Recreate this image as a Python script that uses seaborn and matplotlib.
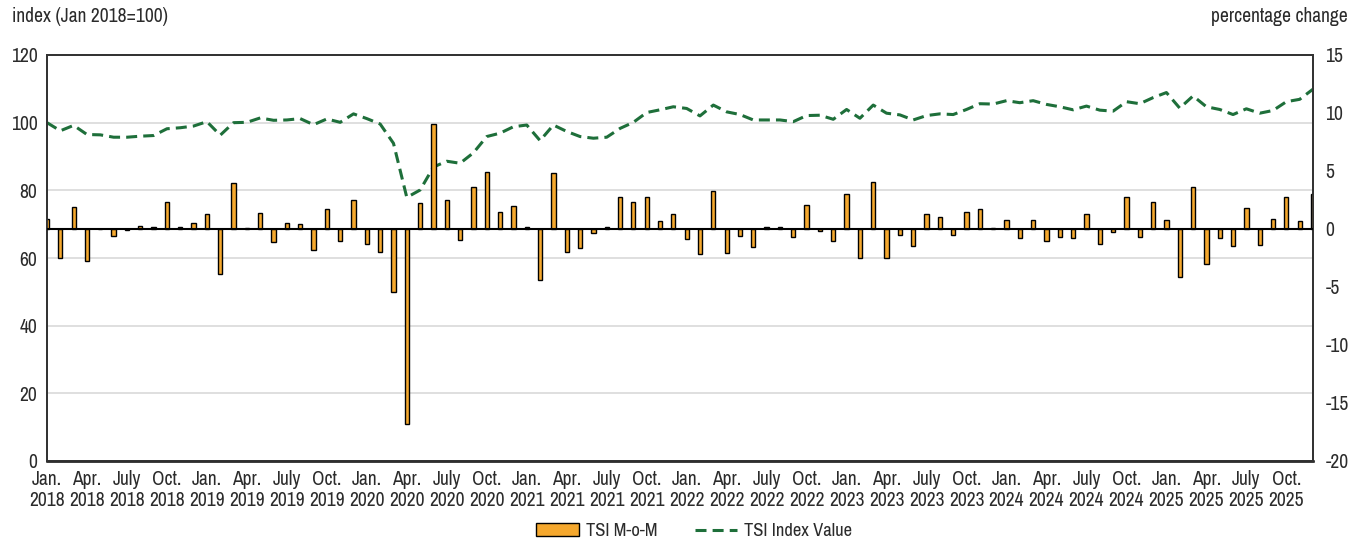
import numpy as np
import pandas as pd
import matplotlib
matplotlib.use("Agg")
import matplotlib.pyplot as plt
from matplotlib import font_manager as fm
import seaborn as sns

years = list(range(2018, 2026))
month_names = ["Jan.", "Feb.", "Mar.", "Apr.", "May", "June", "July", "Aug.", "Sept.", "Oct.", "Nov.", "Dec."]
tick_month_names = {0: "Jan.", 3: "Apr.", 6: "July", 9: "Oct."}

mom_pct = [
    0.9, -2.5, 1.9, -2.8, 0.0, -0.6, -0.05, 0.3, 0.2, 2.3, 0.2, 0.5,
    1.3, -3.9, 4.0, 0.05, 1.4, -1.1, 0.5, 0.4, -1.8, 1.75, -1.0, 2.5,
    -1.3, -2.0, -5.4, -16.8, 2.2, 9.05, 2.5, -0.95, 3.65, 4.9, 1.5, 2.0,
    0.15, -4.4, 4.8, -2.0, -1.6, -0.35, 0.2, 2.8, 2.3, 2.8, 0.65, 1.3,
    -0.85, -2.15, 3.3, -2.1, -0.6, -1.55, 0.15, 0.15, -0.7, 2.1, -0.15, -1.05,
    3.0, -2.5, 4.05, -2.5, -0.55, -1.5, 1.3, 1.0, -0.5, 1.45, 1.7, 0.1,
    0.8, -0.8, 0.75, -1.0, -0.7, -0.8, 1.3, -1.3, -0.25, 2.8, -0.7, 2.35,
    0.8, -4.15, 3.6, -3.0, -0.8, -1.45, 1.8, -1.4, 0.9, 2.75, 0.7, 3.0,
]

index_value = [
    100.0, 97.6, 99.2, 96.5, 96.4, 95.7, 95.7, 96.0, 96.2, 98.2, 98.5, 99.0,
    100.3, 96.3, 100.0, 100.1, 101.4, 100.7, 100.8, 101.2, 99.4, 101.1, 100.1, 102.6,
    101.2, 99.6, 93.9, 77.9, 80.1, 86.9, 88.6, 88.0, 91.1, 95.9, 96.9, 98.8,
    99.3, 94.7, 99.3, 97.4, 95.9, 95.4, 95.7, 98.3, 100.1, 103.0, 103.8, 104.7,
    104.2, 102.0, 105.2, 103.2, 102.4, 100.8, 100.8, 100.8, 100.3, 102.1, 102.2, 101.0,
    103.9, 101.3, 105.2, 102.8, 102.3, 100.8, 102.1, 102.6, 102.4, 103.9, 105.6, 105.5,
    106.5, 105.9, 106.5, 105.4, 104.7, 103.8, 104.9, 103.7, 103.4, 106.2, 105.6, 107.4,
    108.9, 104.3, 107.9, 104.7, 103.9, 102.4, 104.1, 102.8, 103.6, 106.2, 106.9, 109.9,
]

months = [f"{m} {y}" for y in years for m in month_names]
tick_labels = [f"{tick_month_names[i % 12]}\n{years[i // 12]}" for i in range(0, len(months), 3)]

left_ticks = [0, 20, 40, 60, 80, 100, 120]
right_ticks = [-20, -15, -10, -5, 0, 5, 10, 15]

df = pd.DataFrame({"month": months, "mom": mom_pct, "index": index_value, "pos": np.arange(len(months))})

sns.set_style("white")

# pick a narrow / condensed regular face, preferring Liberation Sans Narrow
bad = ("bold", "italic", "light", "thin", "medium", "semi", "extra", "black", "heavy", "oblique")
cands = []
for path in fm.findSystemFonts():
    low = path.lower().split("/")[-1]
    if ("narrow" in low or "condensed" in low) and not any(b in low for b in bad):
        score = 0 if "liberationsansnarrow" in low else (1 if "narrow" in low else 2)
        cands.append((score, path))
cands.sort()
narrow_name = None
for _, path in cands:
    try:
        fm.fontManager.addfont(path)
        narrow_name = fm.FontProperties(fname=path).get_name()
        break
    except Exception:
        pass
if narrow_name:
    plt.rcParams["font.family"] = [narrow_name, "DejaVu Sans"]
else:
    plt.rcParams["font.family"] = ["Liberation Sans", "DejaVu Sans"]
plt.rcParams["axes.unicode_minus"] = False
text_color = "#2b2b2b"

fig = plt.figure(figsize=(13.64, 5.46), dpi=100)

# size text so that the axis title matches the reference width (~156 px)
probe = fig.text(0, 0, "index (Jan 2018=100)", fontsize=12)
renderer = fig.canvas.get_renderer()
w = probe.get_window_extent(renderer).width
probe.remove()
fs = float(np.clip(12 * 156.0 / w, 10.5, 15.5))

ax = fig.add_axes([47 / 1364, 1 - 461 / 546, (1313 - 47) / 1364, (461 - 55) / 546])
ax2 = ax.twinx()

bar_color = "#F5A82E"
line_color = "#1E6F3A"

sns.lineplot(data=df, x="pos", y="index", ax=ax, color=line_color, lw=2.2,
             ls=(0, (3.6, 2.0)), label="TSI Index Value", legend=False)
sns.barplot(data=df, x="month", y="mom", ax=ax2, color=bar_color, saturation=1,
            edgecolor="black", linewidth=1.0, width=0.32, label="TSI M-o-M")
if ax2.get_legend() is not None:
    ax2.get_legend().remove()
if ax.get_legend() is not None:
    ax.get_legend().remove()
ax2.axhline(0, color="black", lw=1.5, zorder=3)

ax.set_ylim(0, 120)
ax.set_yticks(left_ticks)
ax2.set_ylim(-20, 15)
ax2.set_yticks(right_ticks)

ax.grid(axis="y", color="#d9d9d9", lw=1.2)
ax.grid(axis="x", visible=False)
ax2.grid(False)
ax.set_axisbelow(True)

ax.set_xlim(0, len(months) - 1)
ax.set_xticks(np.arange(0, len(months), 3))
ax.set_xticklabels(tick_labels, linespacing=1.1)

ax.set_xlabel("")
ax.set_ylabel("")
ax2.set_xlabel("")
ax2.set_ylabel("")

ax.tick_params(axis="y", length=0, pad=7, labelsize=fs, labelcolor=text_color)
ax.tick_params(axis="x", length=0, pad=6.5, labelsize=fs, labelcolor=text_color)
ax2.tick_params(axis="y", length=0, pad=9, labelsize=fs, labelcolor=text_color)

for a in (ax, ax2):
    for s in a.spines.values():
        s.set_color("#333333")
        s.set_linewidth(1.3)
ax.spines["bottom"].set_color("black")
ax.spines["bottom"].set_linewidth(1.8)

fig.text(12 / 1364, 1 - 17 / 546, "index (Jan 2018=100)", ha="left", va="center",
         fontsize=fs, color=text_color)
fig.text(1348 / 1364, 1 - 17 / 546, "percentage change", ha="right", va="center",
         fontsize=fs, color=text_color)

bar_handle = ax2.patches[0]
line_handle = ax.get_lines()[0]
fig.legend([bar_handle, line_handle], ["TSI M-o-M", "TSI Index Value"], loc="center",
           bbox_to_anchor=(0.509, 0.027), ncol=2, frameon=False, fontsize=fs * 0.95,
           handlelength=2.3, columnspacing=2.0, handletextpad=0.4,
           labelcolor=text_color)

fig.savefig("out.png", dpi=100)
